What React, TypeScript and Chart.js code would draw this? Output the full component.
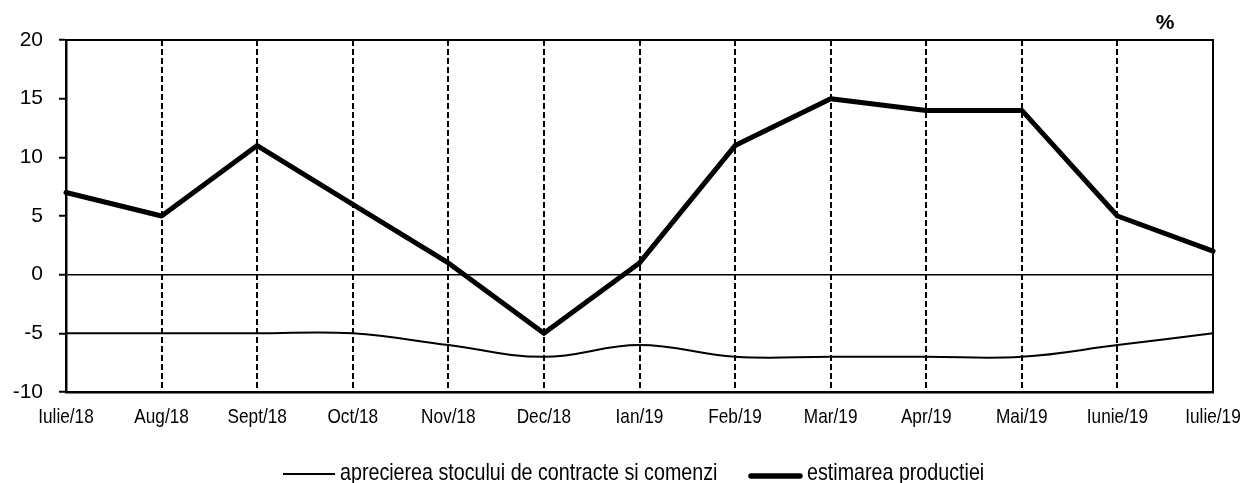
import React, { useEffect, useRef } from 'react';
import { Chart, registerables } from 'chart.js';

Chart.register(...registerables);

const categories = ['Iulie/18', 'Aug/18', 'Sept/18', 'Oct/18', 'Nov/18', 'Dec/18', 'Ian/19', 'Feb/19', 'Mar/19', 'Apr/19', 'Mai/19', 'Iunie/19', 'Iulie/19'];
const stocValues = [-5, -5, -5, -5, -6, -7, -6, -7, -7, -7, -7, -6, -5];
const productieValues = [7, 5, 11, 6, 1, -5, 1, 11, 15, 14, 14, 5, 2];
const seriesNames = ['aprecierea stocului de contracte si comenzi', 'estimarea productiei'];
const yMin = -10;
const yMax = 20;
const yStep = 5;
const unitLabel = '%';

const SANS = "'Liberation Sans', Arial, sans-serif";
const NARROW_SCALE = 0.82;

function narrowText(ctx: CanvasRenderingContext2D, text: string, x: number, y: number) {
  ctx.save();
  ctx.translate(x, y);
  ctx.scale(NARROW_SCALE, 1);
  ctx.fillText(text, 0, 0);
  ctx.restore();
}

export default function App() {
  const ref = useRef<HTMLCanvasElement>(null);

  useEffect(() => {
    document.body.style.margin = '0';
    const canvas = ref.current!;

    const framePlugin = {
      id: 'frame',
      afterDraw(chart: any) {
        const { ctx, chartArea: a } = chart;
        ctx.save();
        ctx.strokeStyle = '#000';
        ctx.fillStyle = '#000';
        ctx.lineWidth = 2;
        ctx.beginPath();
        ctx.moveTo(a.left, a.top);
        ctx.lineTo(a.right, a.top);
        ctx.lineTo(a.right, a.bottom);
        ctx.stroke();

        // unit label
        ctx.font = `bold 21px ${SANS}`;
        ctx.textAlign = 'center';
        ctx.textBaseline = 'middle';
        ctx.fillText(unitLabel, a.right - 48, a.top - 17);

        // x category labels (narrow lettering)
        const xs = chart.scales.x;
        ctx.font = `21px ${SANS}`;
        ctx.textAlign = 'center';
        ctx.textBaseline = 'alphabetic';
        (chart.data.labels as string[]).forEach((lab, i) => {
          narrowText(ctx, lab, xs.getPixelForTick(i), a.bottom + 31);
        });

        // legend
        const ly = a.bottom + 82;
        const ds = chart.data.datasets;
        ctx.font = `24px ${SANS}`;
        ctx.textAlign = 'left';

        ctx.lineWidth = ds[0].borderWidth;
        ctx.lineCap = 'butt';
        ctx.beginPath();
        ctx.moveTo(283, ly);
        ctx.lineTo(335, ly);
        ctx.stroke();
        narrowText(ctx, ds[0].label, 340, ly + 6);

        ctx.lineWidth = 5.5;
        ctx.lineCap = 'round';
        ctx.beginPath();
        ctx.moveTo(751, ly + 2);
        ctx.lineTo(800, ly + 2);
        ctx.stroke();
        narrowText(ctx, ds[1].label, 807, ly + 6);
        ctx.restore();
      },
    };

    const chart = new Chart(canvas, {
      type: 'line',
      data: {
        labels: categories,
        datasets: [
          {
            label: seriesNames[0],
            data: stocValues,
            borderColor: '#000',
            backgroundColor: '#000',
            borderWidth: 2,
            tension: 0.4,
            pointRadius: 0,
            fill: false,
            clip: false as any,
          },
          {
            label: seriesNames[1],
            data: productieValues,
            borderColor: '#000',
            backgroundColor: '#000',
            borderWidth: 5,
            tension: 0,
            pointRadius: 0,
            fill: false,
            borderJoinStyle: 'round',
            borderCapStyle: 'round',
            clip: false as any,
          },
        ],
      },
      options: {
        responsive: false,
        animation: false,
        layout: { padding: { top: 40, right: 29, bottom: 56, left: 0 } },
        plugins: { legend: { display: false }, tooltip: { enabled: false } },
        scales: {
          x: {
            offset: false,
            grid: { color: '#000', lineWidth: 2, drawTicks: false, offset: false },
            border: { color: '#000', width: 2.5, dash: [6, 3] },
            ticks: { display: false, autoSkip: false, maxRotation: 0 },
            afterFit(s: any) {
              s.height = 35;
            },
          },
          y: {
            min: yMin,
            max: yMax,
            ticks: { stepSize: yStep, font: { family: SANS, size: 21 }, color: '#000', padding: 16 },
            grid: {
              color: (c: any) => (c.tick && c.tick.value === 0 ? '#000' : 'rgba(0,0,0,0)'),
              lineWidth: 1.5,
              tickColor: '#000',
              tickLength: 7,
              tickWidth: 2,
            },
            border: { color: '#000', width: 2.5 },
            afterFit(s: any) {
              s.width = 66;
            },
          },
        },
      },
      plugins: [framePlugin],
    });

    return () => chart.destroy();
  }, []);

  return (
    <div style={{ width: 1242, height: 483, background: '#fff' }}>
      <canvas ref={ref} width={1242} height={483} style={{ display: 'block' }} />
    </div>
  );
}
